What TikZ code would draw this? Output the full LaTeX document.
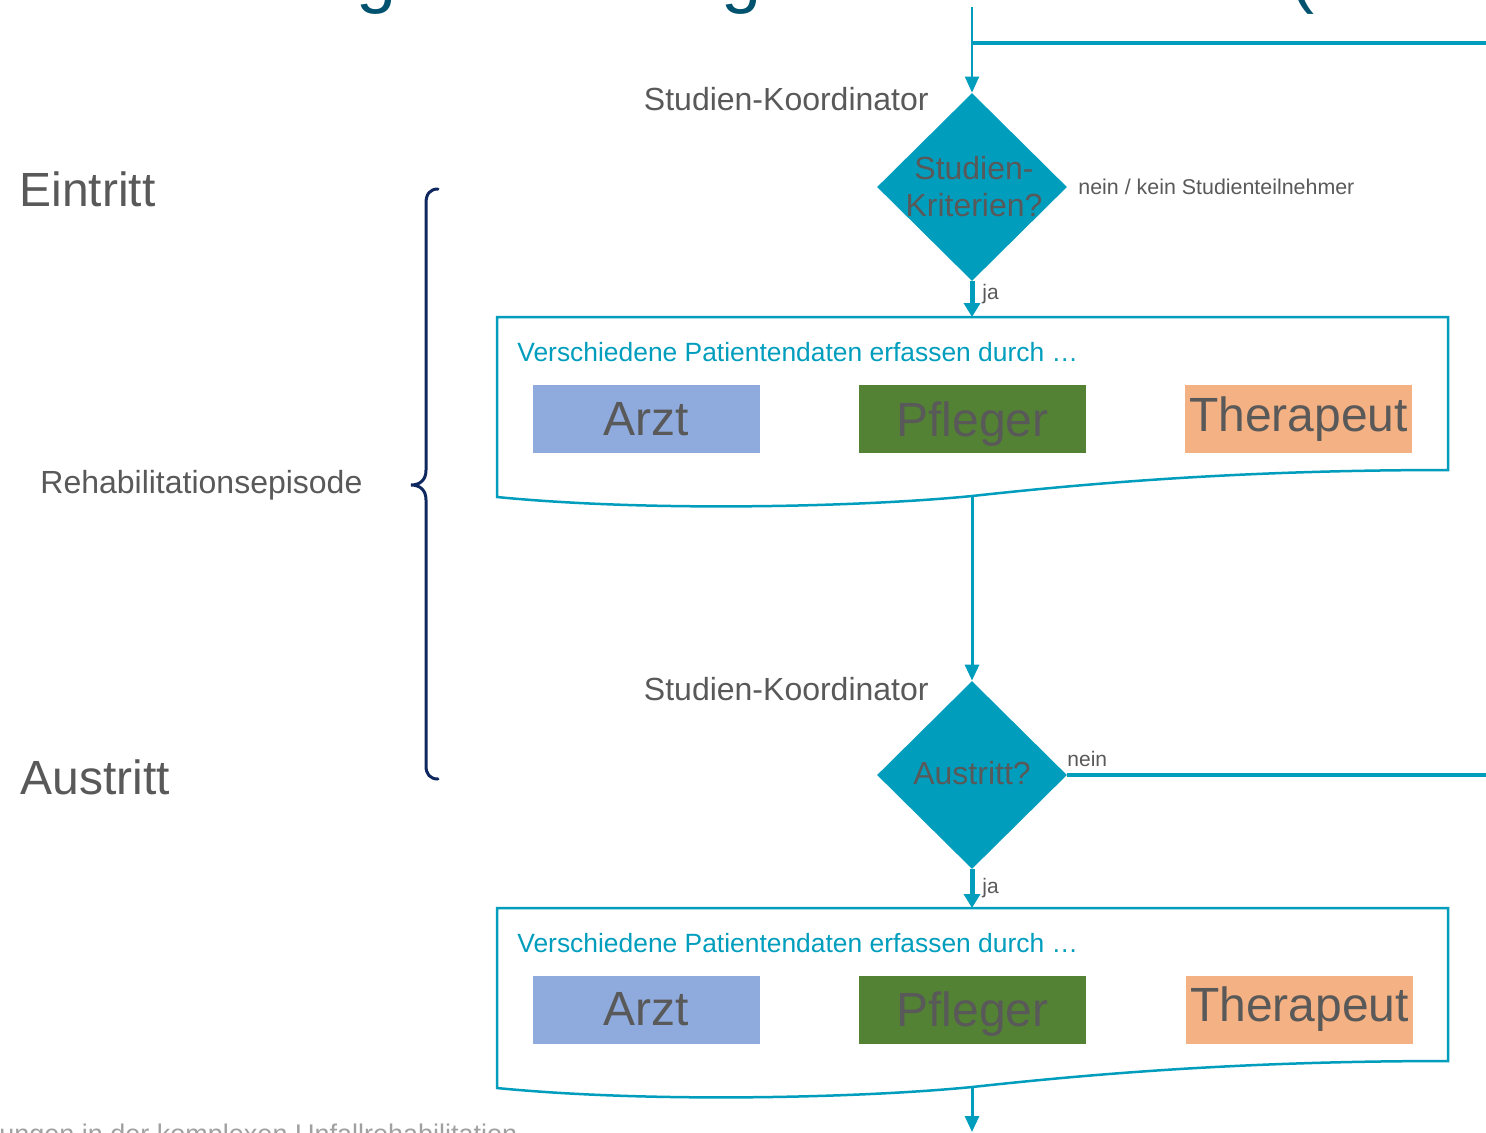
\documentclass[tikz,border=0pt]{standalone}
\usepackage{fontspec}
\setmainfont{Liberation Sans}
\usetikzlibrary{shapes.geometric,arrows.meta}
\definecolor{teal1}{RGB}{0,157,189}
\definecolor{txtgray}{RGB}{89,89,89}
\definecolor{navy}{RGB}{16,40,96}
\definecolor{arztc}{RGB}{143,170,220}
\definecolor{pflegc}{RGB}{84,130,53}
\definecolor{therc}{RGB}{244,177,131}
\definecolor{titlec}{RGB}{0,82,110}
\definecolor{footc}{RGB}{160,160,160}
\begin{document}
\begin{tikzpicture}[x=0.5pt,y=-0.5pt,
  decision/.style={diamond, fill=teal1, draw=none, inner sep=0pt, minimum width=95pt, minimum height=94pt},
  dectext/.style={inner sep=0pt, text=txtgray, font=\fontsize{16}{18.5}\selectfont, align=center},
  role/.style={minimum width=113.5pt, minimum height=34pt, inner sep=0pt, text=txtgray,
    font=\fontsize{24}{28}\selectfont},
  lbl/.style={inner sep=0pt, text=txtgray},
  flow/.style={draw=teal1, line width=1.5pt, -{Triangle[width=7pt,length=8pt]}},
  jaflow/.style={draw=teal1, line width=2.5pt, -{Triangle[width=8pt,length=7pt]}},
  thickline/.style={draw=teal1, line width=2pt},
  docline/.style={draw=teal1, line width=1.25pt},
  headtxt/.style={inner sep=0pt, text=teal1, font=\fontsize{13.2}{16}\selectfont}]
\useasboundingbox (0,0) rectangle (1486,1132);

% title fragments (cut off at top)
\node[anchor=base, inner sep=0pt, text=titlec, font=\fontsize{36}{40}\selectfont] (tg1) at (377,-1) {g};
\node[anchor=base, inner sep=0pt, text=titlec, font=\fontsize{36}{40}\selectfont] (tg2) at (742,-1) {g};
\node[anchor=base, inner sep=0pt, text=titlec, font=\fontsize{36}{40}\selectfont] (tpar) at (1302,-1) {(};

% footer fragment
\node[anchor=base west, inner sep=0pt, text=footc, font=\fontsize{13.5}{16}\selectfont] (foot) at (-1,1143) {ungen in der komplexen Unfallrehabilitation};

% left labels
\node[lbl, anchor=base west, font=\fontsize{24}{28}\selectfont] (eintritt) at (19,206) {Eintritt};
\node[lbl, anchor=base west, font=\fontsize{24}{28}\selectfont] (austritt) at (20,794) {Austritt};
\node[lbl, anchor=base west, font=\fontsize{16}{19}\selectfont] (reha) at (40,493) {Rehabilitationsepisode};

% brace
\draw[navy, line width=1.5pt, line cap=round]
  (438,189) .. controls (430,189) and (426,194) .. (426,203) -- (426,470)
  .. controls (426,480) and (420,485) .. (411,485)
  .. controls (420,485) and (426,490) .. (426,500) -- (426,766)
  .. controls (426,774) and (430,779) .. (438,779);

% top connectors
\coordinate (top) at (972,7);
\coordinate (hj) at (972,43);
\coordinate (hr) at (1486,43);
\draw[thickline] (hj) -- (hr);

% decision 1
\node[decision] (dec1) at (972,187) {};
\node[dectext] (dec1t) at (974,187) {Studien-\\Kriterien?};
\node[lbl, anchor=base east, font=\fontsize{16}{19}\selectfont] (koord1) at (929,110) {Studien-Koordinator};
\node[lbl, anchor=base west, font=\fontsize{10.7}{13}\selectfont] (nein1) at (1078,194) {nein / kein Studienteilnehmer};
\draw[flow, line width=1pt] (top) -- (dec1.north);

% document 1
\draw[docline] (497,497) -- (497,317) -- (1448,317) -- (1448,470)
  .. controls (1250,470) and (1100,482) .. (972,496)
  .. controls (860,507) and (650,512) .. (497,497) -- cycle;
\coordinate (d1top) at (972,317);
\coordinate (d1bot) at (972,496);
\node[headtxt, anchor=base west] (head1) at (517,361) {Verschiedene Patientendaten erfassen durch …};
\node[role, fill=arztc] (arzt1) at (646.5,419) {Arzt};
\node[role, fill=pflegc, text depth=0pt] (pfleg1) at (972.5,419) {Pfleger};
\node[role, fill=therc] (ther1) at (1298.5,419) {Therapeut};

\draw[jaflow] (dec1.south) -- (d1top);
\node[lbl, anchor=base west, font=\fontsize{10.5}{13}\selectfont] (ja1) at (982,299) {ja};

% decision 2
\node[decision] (dec2) at (972,775) {};
\node[dectext] (dec2t) at (972,773) {Austritt?};
\node[lbl, anchor=base east, font=\fontsize{16}{19}\selectfont] (koord2) at (929,700) {Studien-Koordinator};
\draw[flow] (d1bot) -- (dec2.north);
\coordinate (nr) at (1486,775);
\draw[thickline] (dec2.east) -- (nr);
\node[lbl, anchor=base west, font=\fontsize{10.5}{13}\selectfont] (nein2) at (1067,766) {nein};

% document 2
\draw[docline] (497,1088) -- (497,908) -- (1448,908) -- (1448,1061)
  .. controls (1250,1061) and (1100,1073) .. (972,1087)
  .. controls (860,1098) and (650,1103) .. (497,1088) -- cycle;
\coordinate (d2top) at (972,908);
\coordinate (d2bot) at (972,1087);
\node[headtxt, anchor=base west] (head2) at (517,952) {Verschiedene Patientendaten erfassen durch …};
\node[role, fill=arztc] (arzt2) at (646.5,1009.5) {Arzt};
\node[role, fill=pflegc, text depth=0pt] (pfleg2) at (972.5,1009.5) {Pfleger};
\node[role, fill=therc] (ther2) at (1299.5,1009.5) {Therapeut};

\draw[jaflow] (dec2.south) -- (d2top);
\node[lbl, anchor=base west, font=\fontsize{10.5}{13}\selectfont] (ja2) at (982,893) {ja};

\coordinate (bot) at (972,1132);
\draw[flow] (d2bot) -- (bot);
\end{tikzpicture}
\end{document}
